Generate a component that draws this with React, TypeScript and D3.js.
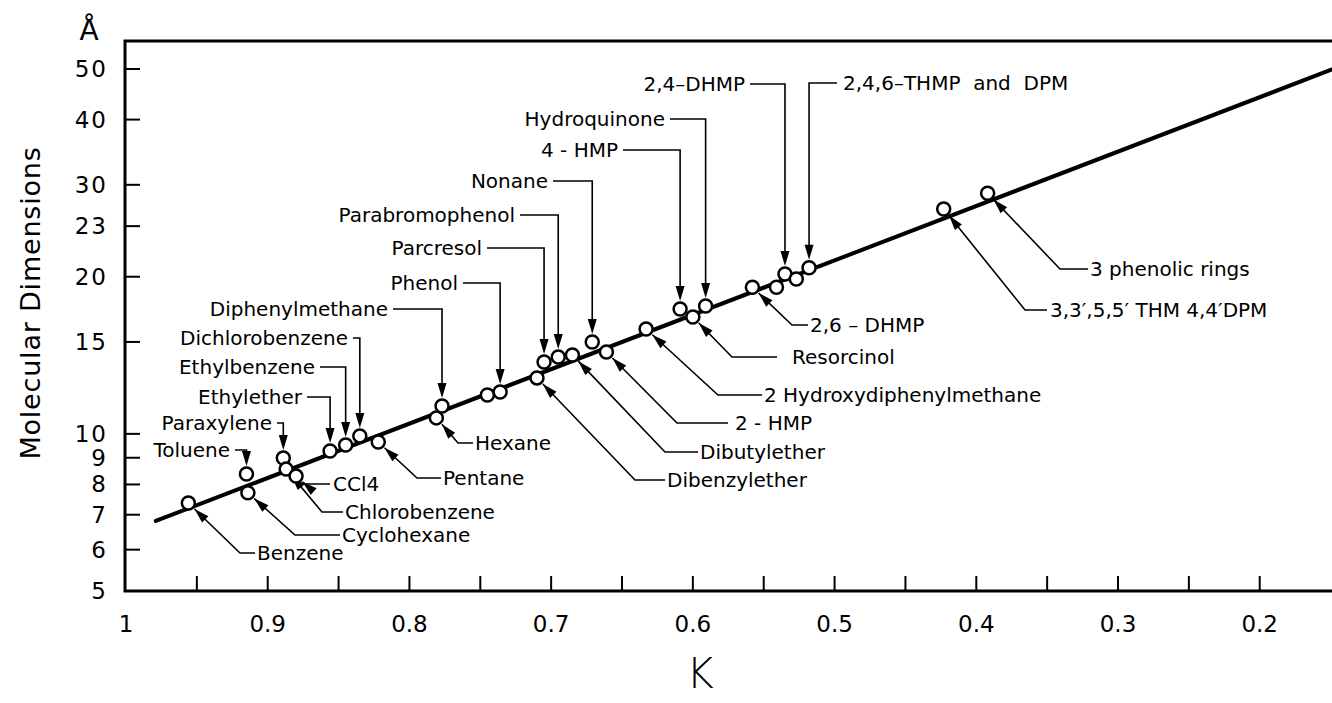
import React from 'react';
import * as d3 from 'd3';

// ---------- data ----------
const compounds = [
  'Benzene', 'Toluene', 'Cyclohexane', 'Paraxylene', 'Chlorobenzene', 'CCl4',
  'Ethylether', 'Ethylbenzene', 'Dichlorobenzene', 'Pentane', 'Hexane',
  'Diphenylmethane', '', 'Phenol', 'Dibenzylether', 'Parcresol', 'Parabromophenol',
  'Dibutylether', 'Nonane', '2 - HMP', '2 Hydroxydiphenylmethane', '4 - HMP',
  'Resorcinol', 'Hydroquinone', '2,6 – DHMP', '', '2,4–DHMP', '',
  '2,4,6–THMP  and  DPM', '3,3′,5,5′ THM 4,4′DPM', '3 phenolic rings',
];
const kValues = [
  0.956, 0.915, 0.914, 0.889, 0.887, 0.880,
  0.856, 0.845, 0.835, 0.822, 0.781,
  0.777, 0.745, 0.736, 0.710, 0.705, 0.695,
  0.685, 0.671, 0.661, 0.633, 0.609,
  0.600, 0.591, 0.558, 0.541, 0.535, 0.527,
  0.518, 0.423, 0.392,
];
const dimValues = [
  7.37, 8.38, 7.71, 8.99, 8.56, 8.30,
  9.27, 9.52, 9.91, 9.65, 10.73,
  11.31, 11.87, 12.03, 12.8, 13.73, 14.04,
  14.16, 15.0, 14.35, 15.88, 17.35,
  16.75, 17.58, 19.1, 19.1, 20.24, 19.8,
  20.8, 26.97, 28.9,
];
const fitK = [0.979, 0.149];
const fitDim = [6.81, 49.9];

const xTickMinor = [0.95, 0.9, 0.85, 0.8, 0.75, 0.7, 0.65, 0.6, 0.55, 0.5, 0.45, 0.4, 0.35, 0.3, 0.25, 0.2];
const xTickValues = [1, 0.9, 0.8, 0.7, 0.6, 0.5, 0.4, 0.3, 0.2];
const xTickLabels = ['1', '0.9', '0.8', '0.7', '0.6', '0.5', '0.4', '0.3', '0.2'];
const yTickValues = [5, 6, 7, 8, 9, 10, 15, 20, 25, 30, 40, 50];
const yTickLabels = ['5', '6', '7', '8', '9', '10', '15', '20', '23', '30', '40', '50'];

// ---------- layout (label placement, pixels) ----------
const topLabels = [
  { i: 1, x: 230, y: 450 },
  { i: 3, x: 272, y: 423 },
  { i: 6, x: 302, y: 397 },
  { i: 7, x: 315, y: 367 },
  { i: 8, x: 348, y: 338 },
  { i: 11, x: 388, y: 309 },
  { i: 13, x: 458, y: 283 },
  { i: 15, x: 482, y: 248 },
  { i: 16, x: 515, y: 215 },
  { i: 18, x: 548, y: 181 },
  { i: 21, x: 618, y: 150 },
  { i: 23, x: 665, y: 119 },
  { i: 26, x: 745, y: 84 },
];
const topRightLabels = [{ i: 28, x: 843, y: 83 }];
const sideLabels = [
  { i: 0, ex: 240, ey: 553, lx: 255, tx: 257 },
  { i: 2, ex: 295, ey: 535, lx: 340, tx: 342 },
  { i: 4, ex: 322, ey: 512, lx: 343, tx: 345 },
  { i: 5, ex: 305, ey: 484, lx: 330, tx: 333 },
  { i: 9, ex: 417, ey: 478, lx: 441, tx: 443 },
  { i: 10, ex: 458, ey: 443, lx: 473, tx: 475 },
  { i: 14, ex: 635, ey: 480, lx: 665, tx: 667 },
  { i: 17, ex: 665, ey: 452, lx: 698, tx: 700 },
  { i: 19, ex: 677, ey: 423, lx: 728, tx: 735 },
  { i: 20, ex: 718, ey: 395, lx: 762, tx: 764 },
  { i: 22, ex: 732, ey: 357, lx: 777, tx: 792 },
  { i: 24, ex: 792, ey: 325, lx: 808, tx: 810 },
  { i: 29, ex: 1025, ey: 310, lx: 1047, tx: 1050 },
  { i: 30, ex: 1060, ey: 269, lx: 1088, tx: 1090 },
];

const W = 1332;
const H = 703;
const LEFT = 126;
const TOP = 41;
const BOTTOM = 591;
const R = 6.5;
const FONT = '"DejaVu Sans", Verdana, sans-serif';

function Arrow({ tx, ty, fx, fy }: { tx: number; ty: number; fx: number; fy: number }) {
  const dx = tx - fx;
  const dy = ty - fy;
  const len = Math.hypot(dx, dy) || 1;
  const ux = dx / len;
  const uy = dy / len;
  const L = 15;
  const w = 4.5;
  const bx = tx - ux * L;
  const by = ty - uy * L;
  const pts = [
    [tx, ty],
    [bx - uy * w, by + ux * w],
    [bx + uy * w, by - ux * w],
  ];
  return <polygon points={pts.map((p) => p.join(',')).join(' ')} fill="#000" />;
}

export default function App() {
  const x = d3.scaleLinear().domain([1, 0.149]).range([LEFT, W]);
  const y = d3.scaleLog().domain([5, 50]).range([BOTTOM, 69]);

  const line = d3
    .line<number>()
    .x((_, j) => x(fitK[j]))
    .y((_, j) => y(fitDim[j]));

  const pts = kValues.map((k, i) => ({ px: x(k), py: y(dimValues[i]), name: compounds[i] }));

  return (
    <svg
      width={W}
      height={H}
      style={{ position: 'absolute', left: 0, top: 0, background: '#fff' }}
      fontFamily={FONT}
    >
      <rect width={W} height={H} fill="#fff" />
      {/* frame */}
      <path d={`M${W},${TOP} H${LEFT - 1} V${BOTTOM} H${W}`} fill="none" stroke="#000" strokeWidth={3} />

      {/* x ticks */}
      {xTickMinor.map((t) => (
        <line key={'xt' + t} x1={x(t)} x2={x(t)} y1={BOTTOM} y2={BOTTOM - 15} stroke="#000" strokeWidth={2} />
      ))}
      {xTickValues.map((t, j) => (
        <text key={'xl' + t} x={x(t)} y={624} fontSize={23} textAnchor="middle" dominantBaseline="central">
          {xTickLabels[j]}
        </text>
      ))}

      {/* y ticks */}
      {yTickValues.map((t, j) => (
        <g key={'y' + t}>
          {t !== 5 && <line x1={LEFT} x2={LEFT + 14} y1={y(t)} y2={y(t)} stroke="#000" strokeWidth={2} />}
          <text x={108} y={y(t)} fontSize={23} textAnchor="end" dominantBaseline="central" letterSpacing={2}>
            {yTickLabels[j]}
          </text>
        </g>
      ))}

      {/* axis titles */}
      <text x={89} y={30} fontSize={28} textAnchor="middle" dominantBaseline="central">Å</text>
      <text
        transform="translate(30,303) rotate(-90)"
        fontSize={27}
        textAnchor="middle"
        dominantBaseline="central"
        letterSpacing={0.8}
      >
        Molecular Dimensions
      </text>
      <text x={700} y={688} fontSize={42} fontWeight={300} textAnchor="middle">K</text>

      {/* fit line */}
      <path d={line(fitK) || ''} fill="none" stroke="#000" strokeWidth={4} strokeLinecap="round" />

      {/* top labels */}
      {topLabels.map((l) => {
        const p = pts[l.i];
        const tipY = p.py - R - 1.5;
        return (
          <g key={'tl' + l.i}>
            <path d={`M${l.x + 5},${l.y} H${p.px} V${tipY - 6}`} fill="none" stroke="#000" strokeWidth={1.6} />
            <Arrow tx={p.px} ty={tipY} fx={p.px} fy={l.y} />
            <text x={l.x} y={l.y} fontSize={20} textAnchor="end" dominantBaseline="central">{p.name}</text>
          </g>
        );
      })}
      {topRightLabels.map((l) => {
        const p = pts[l.i];
        const tipY = p.py - R - 1.5;
        return (
          <g key={'tr' + l.i}>
            <path d={`M${l.x - 6},${l.y} H${p.px} V${tipY - 6}`} fill="none" stroke="#000" strokeWidth={1.6} />
            <Arrow tx={p.px} ty={tipY} fx={p.px} fy={l.y} />
            <text x={l.x} y={l.y} fontSize={20} textAnchor="start" dominantBaseline="central" style={{ whiteSpace: 'pre' }}>
              {p.name}
            </text>
          </g>
        );
      })}

      {/* side labels */}
      {sideLabels.map((l) => {
        const p = pts[l.i];
        const dx = l.ex - p.px;
        const dy = l.ey - p.py;
        const len = Math.hypot(dx, dy) || 1;
        const tipX = p.px + (dx / len) * (R + 2);
        const tipY = p.py + (dy / len) * (R + 2);
        return (
          <g key={'sl' + l.i}>
            <path d={`M${tipX},${tipY} L${l.ex},${l.ey} H${l.lx}`} fill="none" stroke="#000" strokeWidth={1.6} />
            <Arrow tx={tipX} ty={tipY} fx={l.ex} fy={l.ey} />
            <text x={l.tx} y={l.ey} fontSize={20} textAnchor="start" dominantBaseline="central">{p.name}</text>
          </g>
        );
      })}

      {/* points */}
      {pts.map((p, i) => (
        <circle key={'c' + i} cx={p.px} cy={p.py} r={R} fill="#fff" stroke="#000" strokeWidth={2.5} />
      ))}
    </svg>
  );
}
